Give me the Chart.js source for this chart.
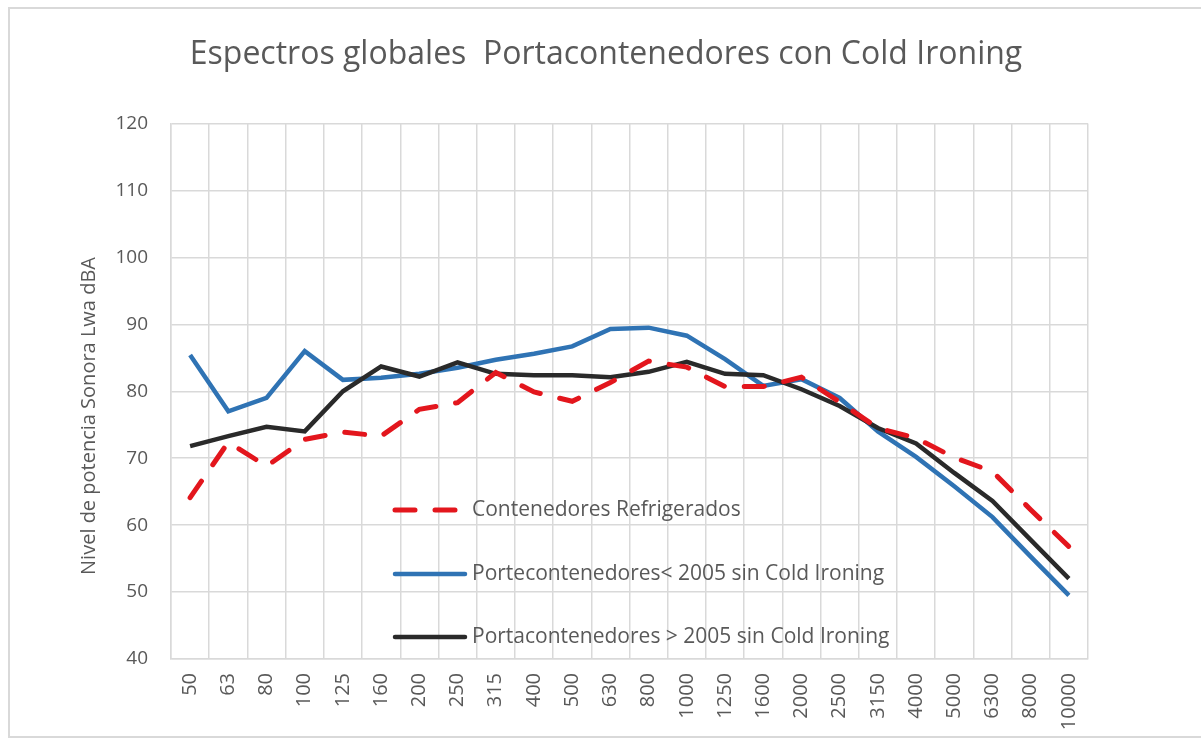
<!DOCTYPE html>
<html>
<head>
<meta charset="utf-8">
<script src="https://cdn.jsdelivr.net/npm/chart.js@4/dist/chart.umd.min.js"></script>
<style>
html,body{margin:0;padding:0;background:#fff;}
#wrap{width:1201px;height:742px;}
</style>
</head>
<body>
<div id="wrap"><canvas id="c" width="1201" height="742"></canvas></div>
<script>
const categories = ['50','63','80','100','125','160','200','250','315','400','500','630','800','1000','1250','1600','2000','2500','3150','4000','5000','6300','8000','10000'];
const refrigerados = [64.1, 72.4, 68.8, 72.8, 73.9, 73.3, 77.3, 78.3, 82.8, 79.9, 78.5, 81.3, 84.5, 83.6, 80.7, 80.7, 82.1, 78.4, 74.5, 73.0, 70.1, 68.0, 62.3, 56.8];
const porte2005Menos = [85.4, 77.0, 79.0, 86.0, 81.7, 82.0, 82.6, 83.5, 84.7, 85.6, 86.7, 89.3, 89.5, 88.3, 84.8, 80.8, 81.8, 79.0, 74.0, 70.2, 65.8, 61.2, 55.3, 49.5];
const porta2005Mas = [71.8, 73.3, 74.7, 74.0, 80.0, 83.7, 82.2, 84.3, 82.6, 82.4, 82.4, 82.1, 82.9, 84.4, 82.6, 82.4, 80.3, 77.8, 74.5, 72.2, 67.8, 63.6, 57.8, 52.0];
const seriesNames = ['Contenedores Refrigerados', 'Portecontenedores< 2005 sin Cold Ironing', 'Portacontenedores > 2005 sin Cold Ironing'];
const yTicks = [40, 50, 60, 70, 80, 90, 100, 110, 120];
const titleText = 'Espectros globales  Portacontenedores con Cold Ironing';
const yTitle = 'Nivel de potencia Sonora Lwa dBA';

const FONT = "'Open Sans', 'Liberation Sans', sans-serif";
const GRID = '#d9d9d9';
const TXT = '#595959';

const framePlugin = {
  id: 'frame',
  beforeDraw(chart) {
    const ctx = chart.ctx;
    ctx.save();
    ctx.fillStyle = '#fff';
    ctx.fillRect(0, 0, chart.width, chart.height);
    ctx.strokeStyle = GRID;
    ctx.lineWidth = 2;
    ctx.strokeRect(9, 8, 1220, 729);
    ctx.restore();
  }
};

const textPlugin = {
  id: 'texts',
  afterDraw(chart) {
    const ctx = chart.ctx;
    ctx.save();
    ctx.fillStyle = TXT;
    ctx.font = "32px " + FONT;
    ctx.textAlign = 'center';
    ctx.textBaseline = 'middle';
    ctx.fillText(titleText, 606, 55);
    ctx.translate(89, 416);
    ctx.rotate(-Math.PI / 2);
    ctx.font = "20px " + FONT;
    ctx.fillText(yTitle, 0, 0);
    ctx.restore();
  }
};

const legendPlugin = {
  id: 'insideLegend',
  afterDraw(chart) {
    const ctx = chart.ctx;
    const ys = [510, 574, 637];
    ctx.save();
    chart.data.datasets.forEach((ds, i) => {
      const y = ys[i];
      ctx.beginPath();
      ctx.strokeStyle = ds.borderColor;
      ctx.lineWidth = ds.borderWidth;
      ctx.lineCap = 'round';
      ctx.setLineDash(ds.borderDash || []);
      ctx.moveTo(395, y);
      ctx.lineTo(465, y);
      ctx.stroke();
      ctx.setLineDash([]);
      ctx.fillStyle = TXT;
      ctx.font = "21px " + FONT;
      ctx.textBaseline = 'middle';
      ctx.textAlign = 'left';
      ctx.fillText(ds.label, 472, y);
    });
    ctx.restore();
  }
};

new Chart(document.getElementById('c'), {
  type: 'line',
  data: {
    labels: categories,
    datasets: [
      { label: seriesNames[0], data: refrigerados, borderColor: '#e3161d', borderWidth: 5, borderDash: [20, 20], borderCapStyle: 'round', pointRadius: 0, tension: 0, fill: false, order: 0 },
      { label: seriesNames[1], data: porte2005Menos, borderColor: '#2f73b4', borderWidth: 4.5, pointRadius: 0, tension: 0, fill: false, order: 2 },
      { label: seriesNames[2], data: porta2005Mas, borderColor: '#2a2a2a', borderWidth: 4.5, pointRadius: 0, tension: 0, fill: false, order: 1 }
    ]
  },
  options: {
    responsive: false,
    animation: false,
    devicePixelRatio: 1,
    layout: { padding: { left: 75, right: 113, top: 123.5, bottom: 5 } },
    plugins: {
      legend: { display: false },
      tooltip: { enabled: false },
      title: { display: false }
    },
    scales: {
      x: {
        type: 'category',
        offset: true,
        grid: { offset: true, color: GRID, lineWidth: 1.5, drawTicks: false },
        border: { color: GRID, width: 1.5 },
        ticks: { autoSkip: false, minRotation: 90, maxRotation: 90, padding: 14, color: TXT, font: { family: FONT, size: 20 } },
        afterFit(s) { s.height = 78; }
      },
      y: {
        min: 40,
        max: 120,
        afterBuildTicks(s) { s.ticks = yTicks.map(v => ({ value: v })); },
        grid: { color: GRID, lineWidth: 1.5, drawTicks: false },
        border: { color: GRID, width: 1.5 },
        ticks: { padding: 23, color: TXT, font: { family: FONT, size: 19 } },
        title: { display: false },
        afterFit(s) { s.width = 96; }
      }
    }
  },
  plugins: [framePlugin, textPlugin, legendPlugin]
});
</script>
</body>
</html>
